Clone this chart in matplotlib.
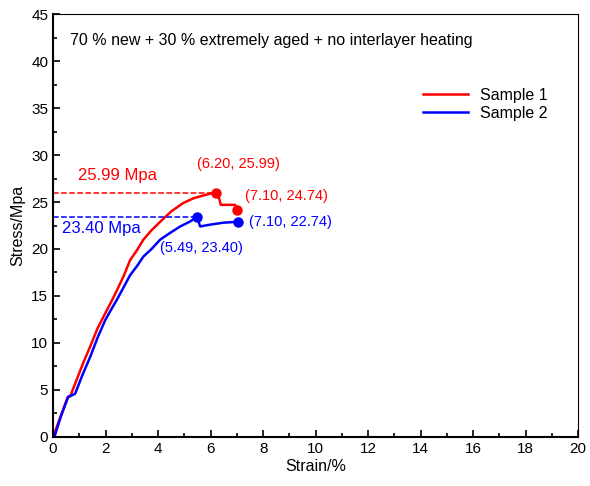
import numpy as np
import matplotlib.pyplot as plt
from matplotlib.ticker import MultipleLocator

plt.rcParams['font.family'] = ['Liberation Sans', 'DejaVu Sans']

# ----------------------------- DATA
s1_strain = [0.0, 0.3, 0.55, 0.65, 0.9, 1.15, 1.41, 1.7, 1.92, 2.2, 2.43, 2.7, 2.93, 3.2, 3.44, 3.75, 4.08, 4.5, 4.96, 5.35, 5.73, 6.0, 6.2, 6.3, 6.39, 6.7, 6.93, 7.02]
s1_stress = [0.0, 2.3, 4.2, 4.3, 6.1, 7.9, 9.6, 11.6, 12.8, 14.3, 15.6, 17.2, 18.8, 19.9, 21.0, 22.0, 22.9, 24.0, 24.9, 25.4, 25.7, 25.9, 25.99, 25.6, 24.7, 24.7, 24.7, 24.2]
s2_strain = [0.05, 0.3, 0.58, 0.7, 0.84, 1.09, 1.41, 1.7, 1.98, 2.2, 2.43, 2.7, 2.93, 3.2, 3.44, 3.75, 4.08, 4.45, 4.84, 5.2, 5.49, 5.6, 6.0, 6.49, 7.06]
s2_stress = [0.0, 2.2, 4.3, 4.4, 4.6, 6.4, 8.5, 10.6, 12.4, 13.5, 14.6, 16.0, 17.2, 18.2, 19.2, 20.0, 21.0, 21.7, 22.4, 22.9, 23.40, 22.4, 22.6, 22.8, 22.9]

peak1 = (6.20, 25.99)
peak2 = (5.49, 23.40)

# ----------------------------- PLOT
fig = plt.figure(figsize=(5.9, 4.86), dpi=100)
ax = fig.add_axes([0.09, 0.101, 0.89, 0.87])

ax.plot(s1_strain, s1_stress, color='red', lw=1.8, label='Sample 1')
ax.plot(s2_strain, s2_stress, color='blue', lw=1.8, label='Sample 2')

# peak and end markers
ax.plot(*peak1, 'o', color='red', ms=6.5)
ax.plot(s1_strain[-1], s1_stress[-1], 'o', color='red', ms=6.5)
ax.plot(*peak2, 'o', color='blue', ms=6.5)
ax.plot(s2_strain[-1], s2_stress[-1], 'o', color='blue', ms=6.5)

ax.plot([0, 6.1], [peak1[1], peak1[1]], '--', color='red', lw=1.1)
ax.plot([0, 5.35], [peak2[1], peak2[1]], '--', color='blue', lw=1.1)

ax.text(0.95, 27.8, '25.99 Mpa', color='red', fontsize=12, va='center')
ax.text(0.35, 22.2, '23.40 Mpa', color='blue', fontsize=12, va='center')
ax.text(7.05, 29.0, '(6.20, 25.99)', color='red', fontsize=10.5, ha='center', va='center')
ax.text(7.3, 25.6, '(7.10, 24.74)', color='red', fontsize=10.5, va='center')
ax.text(7.45, 22.9, '(7.10, 22.74)', color='blue', fontsize=10.5, va='center')
ax.text(4.08, 20.1, '(5.49, 23.40)', color='blue', fontsize=10.5, va='center')
ax.text(0.65, 42.2, '70 % new + 30 % extremely aged + no interlayer heating', fontsize=11.5, va='center')

ax.set_xlim(0, 20)
ax.set_ylim(0, 45)
ax.xaxis.set_major_locator(MultipleLocator(2))
ax.xaxis.set_minor_locator(MultipleLocator(1))
ax.yaxis.set_major_locator(MultipleLocator(5))
ax.yaxis.set_minor_locator(MultipleLocator(2.5))
ax.tick_params(which='both', direction='in', top=False, right=False, labelsize=11, width=1.2)
ax.tick_params(which='major', length=5)
ax.tick_params(which='minor', length=3)
for side in ['left', 'bottom']:
    ax.spines[side].set_linewidth(1.5)
ax.set_xlabel('Strain/%', fontsize=11.5, labelpad=2)
ax.set_ylabel('Stress/Mpa', fontsize=11.5, labelpad=4)

ax.legend(loc='upper right', bbox_to_anchor=(0.97, 0.86), frameon=False, fontsize=11.5,
          handlelength=2.8, labelspacing=0.2)

fig.savefig('out.png', dpi=100)
